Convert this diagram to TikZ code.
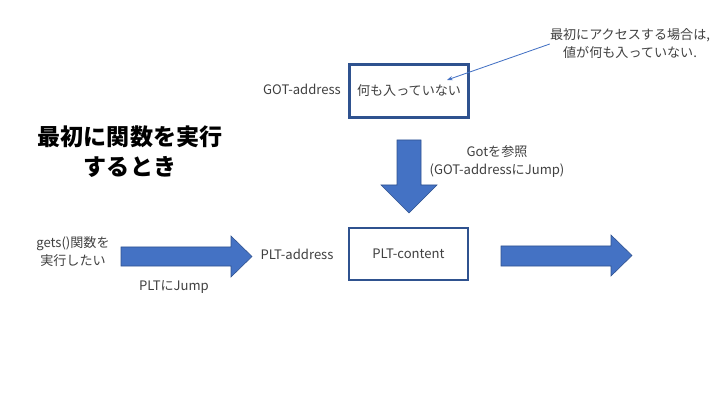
\documentclass[tikz,border=0pt]{standalone}
\usepackage{fontspec}
\usetikzlibrary{arrows.meta}
\setmainfont{Noto Sans CJK JP}
\definecolor{bleu}{HTML}{4472C4}
\definecolor{bleufonce}{HTML}{2F528F}
\definecolor{texte}{HTML}{404040}

\begin{document}
\begin{tikzpicture}[x=0.025cm,y=-0.025cm,
  every node/.style={text=texte,font=\fontsize{9.3}{12.8}\selectfont,inner sep=0pt,align=center},
  boite/.style={draw=bleufonce,line width=1.7pt,minimum width=2.975cm,minimum height=1.325cm},
  fleche/.style={fill=bleu,draw=bleufonce,line width=0.4pt}]
% 0. Cadre de la diapositive
\useasboundingbox (0,0) rectangle (720,405);

% 1. Titre en gras a gauche
\node[text=black,font=\fontsize{16.4}{21.3}\selectfont\bfseries] (titre) at (130,152) {最初に関数を実行\\するとき};

% 2. Boite GOT et son adresse
\node[boite] (gotbox) at (409,91) {何も入っていない};
\node (gotaddr) at (302,89) {GOT-address};

% 3. Remarque avec la fleche fine
\node (note) at (630,44) {最初にアクセスする場合は,\\値が何も入っていない.};
\coordinate (cible) at (447,80);
\draw[bleu,line width=0.6pt,-{Stealth[length=4pt,width=3pt]}] (note.west) -- (cible);

% 4. Fleche vers le bas (Got)
\filldraw[fleche] (397,140) -- (421,140) -- (421,185) -- (437,185) -- (409,213) -- (381,185) -- (397,185) -- cycle;
\node (gotref) at (497,162) {Gotを参照\\(GOT-addressにJump)};

% 5. Ligne du bas : gets() -> PLT -> suite
\node (gets) at (73,252) {gets()関数を\\実行したい};
\filldraw[fleche] (121,247) -- (231,247) -- (231,236) -- (252,256.5) -- (231,277) -- (231,266) -- (121,266) -- cycle;
\node (jump) at (174,287) {PLTにJump};
\node (pltaddr) at (297,254) {PLT-address};
\node[boite,minimum height=1.3cm] (pltbox) at (408.5,254) {PLT-content};
\filldraw[fleche] (501,246) -- (611,246) -- (611,235) -- (632,255.5) -- (611,276) -- (611,266) -- (501,266) -- cycle;
\end{tikzpicture}
\end{document}
